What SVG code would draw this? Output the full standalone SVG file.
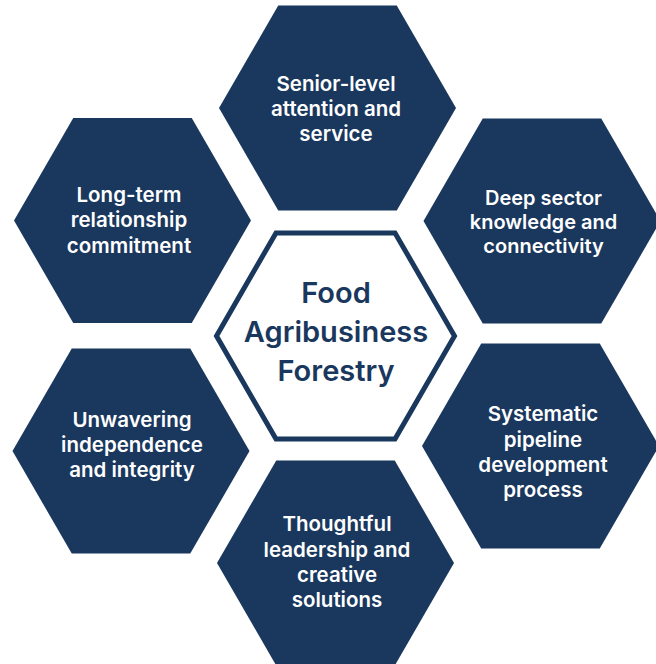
<svg xmlns="http://www.w3.org/2000/svg" xmlns:xlink="http://www.w3.org/1999/xlink" width="656" height="664" viewBox="0 0 656 664">
  <style>
    .hex { fill: #1a375d; }
    .ring { fill: #ffffff; stroke: #1a375d; stroke-width: 5; stroke-linejoin: miter; }
    .lbl { font-family: Inter, Lato, "Noto Sans", "DejaVu Sans", sans-serif; font-weight: 600; font-size: 20.5px; fill: #ffffff; text-anchor: middle; }
    .tight { font-size: 20px; }
    .core { font-family: Inter, Lato, "Noto Sans", "DejaVu Sans", sans-serif; font-weight: 600; font-size: 29px; fill: #1a375d; text-anchor: middle; }
  </style>
  <defs>
    <polygon id="hexshape" points="-118.5,0 -59.25,-102.6 59.25,-102.6 118.5,0 59.25,102.6 -59.25,102.6"/>
  </defs>
  <rect width="656" height="664" fill="#ffffff"/>
  <g id="connectors"></g>
  <g id="node-top">
    <use xlink:href="#hexshape" href="#hexshape" class="hex" x="337.5" y="108"/>
    <text class="lbl"><tspan x="336" y="91">Senior-level</tspan><tspan x="336" y="116">attention and</tspan><tspan x="336" y="141">service</tspan></text>
  </g>
  <g id="node-left-top">
    <use xlink:href="#hexshape" href="#hexshape" class="hex" x="132.5" y="220.5"/>
    <text class="lbl"><tspan x="129" y="202">Long-term</tspan><tspan x="129" y="227">relationship</tspan><tspan x="129" y="252.5">commitment</tspan></text>
  </g>
  <g id="node-right-top">
    <use xlink:href="#hexshape" href="#hexshape" class="hex" x="542" y="221"/>
    <text class="lbl tight"><tspan x="543.5" y="205">Deep sector</tspan><tspan x="543.5" y="229">knowledge and</tspan><tspan x="543.5" y="253">connectivity</tspan></text>
  </g>
  <g id="node-left-bottom">
    <use xlink:href="#hexshape" href="#hexshape" class="hex" x="131" y="451"/>
    <text class="lbl"><tspan x="132" y="427">Unwavering</tspan><tspan x="132" y="452">independence</tspan><tspan x="132" y="477">and integrity</tspan></text>
  </g>
  <g id="node-right-bottom">
    <use xlink:href="#hexshape" href="#hexshape" class="hex" x="540.5" y="446"/>
    <text class="lbl"><tspan x="543" y="421">Systematic</tspan><tspan x="543" y="446.5">pipeline</tspan><tspan x="543" y="472">development</tspan><tspan x="543" y="497">process</tspan></text>
  </g>
  <g id="node-bottom">
    <use xlink:href="#hexshape" href="#hexshape" class="hex" x="335.5" y="563"/>
    <text class="lbl"><tspan x="337" y="531">Thoughtful</tspan><tspan x="337" y="556.5">leadership and</tspan><tspan x="337" y="582">creative</tspan><tspan x="337" y="607">solutions</tspan></text>
  </g>
  <g id="node-center">
    <polygon class="ring" points="216.5,336 276,232.9 395,232.9 454.5,336 395,439.1 276,439.1"/>
    <text class="core"><tspan x="336" y="303">Food</tspan><tspan x="336" y="342">Agribusiness</tspan><tspan x="336" y="380.5">Forestry</tspan></text>
  </g>
</svg>
